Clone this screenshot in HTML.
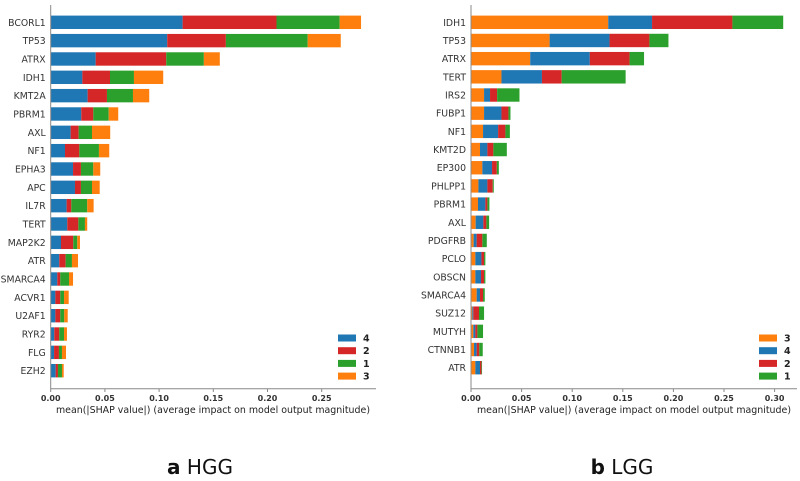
<!DOCTYPE html>
<html><head><meta charset="utf-8"><style>
body{margin:0;background:#fff;width:800px;height:476px;overflow:hidden}
svg{font-family:"DejaVu Sans","Liberation Sans",sans-serif}
</style></head><body>
<svg id="svg" width="800" height="476"></svg>
<script>
const C={"1":"#2ca02c","2":"#d62728","3":"#ff7f0e","4":"#1f77b4"};
// HGG
const hggGenes=["BCORL1","TP53","ATRX","IDH1","KMT2A","PBRM1","AXL","NF1","EPHA3","APC","IL7R","TERT","MAP2K2","ATR","SMARCA4","ACVR1","U2AF1","RYR2","FLG","EZH2"];
const hggOrder=["4","2","1","3"];
const hgg4=[.1217,.1075,.0415,.0292,.0341,.0282,.0184,.0132,.0206,.0224,.0147,.0153,.0095,.0079,.0061,.0043,.0043,.0033,.0031,.0046];
const hgg2=[.0866,.0541,.0651,.0255,.0178,.0111,.0074,.0132,.0073,.0055,.0043,.0102,.0113,.0059,.0027,.0045,.0045,.0046,.0045,.0021];
const hgg1=[.0583,.0755,.0347,.0221,.0240,.0142,.0123,.0181,.0114,.0102,.0147,.0061,.0037,.0058,.0081,.0035,.0037,.0044,.0028,.0037];
const hgg3=[.0197,.0305,.0147,.0270,.0150,.0088,.0168,.0095,.0064,.0071,.0059,.0021,.0025,.0056,.0037,.0043,.0032,.0027,.0037,.0016];
const hggTicks=["0.00","0.05","0.10","0.15","0.20","0.25"];
// LGG
const lggGenes=["IDH1","TP53","ATRX","TERT","IRS2","FUBP1","NF1","KMT2D","EP300","PHLPP1","PBRM1","AXL","PDGFRB","PCLO","OBSCN","SMARCA4","SUZ12","MUTYH","CTNNB1","ATR"];
const lggOrder=["3","4","2","1"];
const lgg3=[.1356,.0777,.0585,.0301,.0129,.0129,.0119,.0089,.0112,.0073,.0069,.0046,.0026,.0043,.0043,.0056,.0013,.0023,.0030,.0043];
const lgg4=[.0433,.0592,.0589,.0400,.0059,.0172,.0149,.0073,.0096,.0089,.0073,.0076,.0030,.0060,.0056,.0033,.0010,.0020,.0026,.0046];
const lgg2=[.0794,.0394,.0393,.0195,.0070,.0069,.0072,.0059,.0047,.0053,.0020,.0030,.0056,.0026,.0030,.0030,.0056,.0020,.0026,.0014];
const lgg1=[.0502,.0188,.0143,.0632,.0221,.0020,.0044,.0133,.0020,.0010,.0020,.0027,.0044,.0013,.0013,.0017,.0050,.0056,.0034,.0006];
const lggTicks=["0.00","0.05","0.10","0.15","0.20","0.25","0.30"];

const svg=document.getElementById('svg');const NS="http://www.w3.org/2000/svg";
function el(t,a,p){const e=document.createElementNS(NS,t);for(const k in a)e.setAttribute(k,a[k]);(p||svg).appendChild(e);return e;}
function panel(id,genes,order,series,ticks,x0,scale,axisEnd,yFirst,yLast,legX,title,titleX,letter,axTitleX){
  const g=el('g',{});
  
  
  const xs=v=>x0+v*scale;
  const n=genes.length, step=(yLast-yFirst)/(n-1);
  const ys=i=>yFirst+i*step;
  genes.forEach((gn,i)=>{
    let acc=0;
    order.forEach((k,j)=>{
      const v=series[j][i];
      const r=el('rect',{x:xs(acc),y:ys(i)-6.7,width:Math.max(0,xs(acc+v)-xs(acc)),height:13.4,fill:C[k]},g);
      
      
      acc+=v;
    });
    const t=el('text',{x:x0-5,y:ys(i)+3.5,'text-anchor':'end','font-size':'9.3',fill:'#333'},g);
    t.textContent=gn;
    
    
  });
  el('line',{x1:x0,y1:5,x2:x0,y2:389,stroke:'#888','stroke-width':1},g);
  el('line',{x1:x0,y1:388.7,x2:axisEnd,y2:388.7,stroke:'#888','stroke-width':1},g);
  ticks.forEach(tk=>{
    const v=parseFloat(tk);
    el('line',{x1:xs(v),y1:389,x2:xs(v),y2:392,stroke:'#888'},g);
    const t=el('text',{x:xs(v),y:401,'text-anchor':'middle','font-size':'8','font-weight':'bold',fill:'#333'},g);
    t.textContent=tk;
    
    
  });
  const at=el('text',{x:axTitleX,y:413,'text-anchor':'middle','font-size':'9.6',fill:'#222',textLength:'314',lengthAdjust:'spacingAndGlyphs'},g);
  at.textContent="mean(|SHAP value|) (average impact on model output magnitude)";
  
  
  order.forEach((k,j)=>{
    const ly=338+j*12.7;
    const s=el('rect',{x:legX,y:ly-3.5,width:18,height:7,fill:C[k]},g);
    
    
    const t=el('text',{x:legX+25,y:ly+3.5,'font-size':'9.5','font-weight':'bold',fill:'#222'},g);
    t.textContent=k;
    
    
  });
  const tt=el('text',{x:titleX,y:474,'text-anchor':'middle','font-size':'20',fill:'#111'},g);
  tt.innerHTML='<tspan font-weight="bold">'+letter+'</tspan> '+title;
  
  
}
panel('hgg',hggGenes,hggOrder,[hgg4,hgg2,hgg1,hgg3],hggTicks,50.7,1084,376,22.3,370.7,338,'HGG',200,'a',213);
panel('lgg',lggGenes,lggOrder,[lgg3,lgg4,lgg2,lgg1],lggTicks,471,1012,797,22.3,367.7,759,'LGG',622,'b',634);
</script>
</body></html>
